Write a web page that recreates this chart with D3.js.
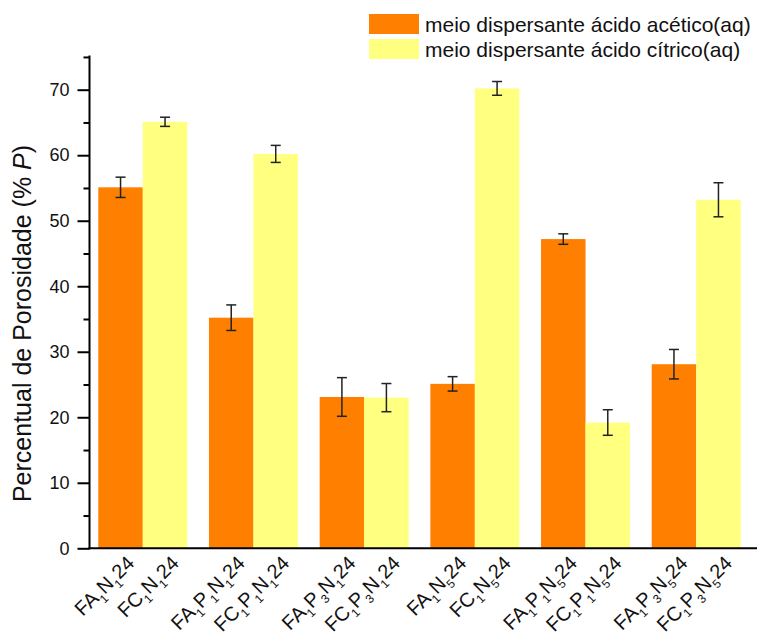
<!DOCTYPE html>
<html>
<head>
<meta charset="utf-8">
<script src="https://cdn.jsdelivr.net/npm/d3@7"></script>
<style>
  html, body { margin: 0; padding: 0; background: #fff; }
  svg { display: block; font-family: "Liberation Sans", Arial, sans-serif; }
</style>
</head>
<body>
<svg id="chart" width="760" height="642"></svg>
<script>
// ---- data ----
const groups = ["N1", "P1N1", "P3N1", "N5", "P1N5", "P3N5"];
const seriesNames = ["meio dispersante ácido acético(aq)", "meio dispersante ácido cítrico(aq)"];
const aceticValues = [55.1, 35.2, 23.1, 25.1, 47.2, 28.1];
const aceticErrors = [1.55, 1.95, 2.95, 1.1, 0.8, 2.25];
const citricValues = [65.1, 60.2, 23.0, 70.2, 19.2, 53.2];
const citricErrors = [0.7, 1.3, 2.15, 1.05, 1.95, 2.6];
// {x} = subscript
const aceticLabels = ["FA{1}N{1}24", "FA{1}P{1}N{1}24", "FA{1}P{3}N{1}24", "FA{1}N{5}24", "FA{1}P{1}N{5}24", "FA{1}P{3}N{5}24"];
const citricLabels = ["FC{1}N{1}24", "FC{1}P{1}N{1}24", "FC{1}P{3}N{1}24", "FC{1}N{5}24", "FC{1}P{1}N{5}24", "FC{1}P{3}N{5}24"];
const yTicks = [0, 10, 20, 30, 40, 50, 60, 70];
const yMinorTicks = [5, 15, 25, 35, 45, 55, 65, 75];
const colors = ["#FF8000", "#FFFF80"];

// ---- layout ----
const svg = d3.select("#chart");
const axisX = 89.5, axisY = 548.3;
const x0 = d3.scaleBand().domain(groups).range([axisX, 749.5]).paddingInner(0.196).paddingOuter(0.0795);
const x1 = d3.scaleBand().domain([0, 1]).range([0, x0.bandwidth()]);
const y = d3.scaleLinear().domain([0, 75]).range([axisY, axisY - 75 * 6.5514]);

const series = [
  { values: aceticValues, errors: aceticErrors, labels: aceticLabels },
  { values: citricValues, errors: citricErrors, labels: citricLabels }
];

// bars
series.forEach((s, si) => {
  svg.append("g").selectAll("rect").data(groups).join("rect")
    .attr("x", g => x0(g) + x1(si))
    .attr("y", (g, i) => y(s.values[i]))
    .attr("width", x1.bandwidth())
    .attr("height", (g, i) => axisY - y(s.values[i]))
    .attr("fill", colors[si]);
});

// error bars
series.forEach((s, si) => {
  const eg = svg.append("g").attr("stroke", "#222").attr("stroke-width", 1.5).attr("fill", "none");
  groups.forEach((g, i) => {
    const cx = x0(g) + x1(si) + x1.bandwidth() / 2;
    const yt = y(s.values[i] + s.errors[i]), yb = y(s.values[i] - s.errors[i]);
    eg.append("line").attr("x1", cx).attr("x2", cx).attr("y1", yt).attr("y2", yb);
    eg.append("line").attr("x1", cx - 5).attr("x2", cx + 5).attr("y1", yt).attr("y2", yt);
    eg.append("line").attr("x1", cx - 5).attr("x2", cx + 5).attr("y1", yb).attr("y2", yb);
  });
});

// y axis
const yAxis = svg.append("g").attr("transform", `translate(${axisX},0)`)
  .call(d3.axisLeft(y).tickValues(yTicks).tickSize(12).tickPadding(8).tickFormat(d3.format("d")));
yAxis.select(".domain").remove();
yAxis.selectAll(".tick line").attr("stroke", "#000").attr("stroke-width", 2);
yAxis.selectAll(".tick text").attr("font-size", 18).attr("fill", "#111")
  .attr("font-family", "'Liberation Sans', Arial, sans-serif");
const yMinor = svg.append("g").attr("transform", `translate(${axisX},0)`)
  .call(d3.axisLeft(y).tickValues(yMinorTicks).tickSize(6).tickFormat(""));
yMinor.select(".domain").remove();
yMinor.selectAll(".tick line").attr("stroke", "#000").attr("stroke-width", 2);

// axis lines
svg.append("line").attr("x1", axisX).attr("x2", axisX).attr("y1", y(75) - 1.5).attr("y2", axisY + 1)
  .attr("stroke", "#000").attr("stroke-width", 2);
svg.append("line").attr("x1", axisX - 1).attr("x2", 757).attr("y1", axisY).attr("y2", axisY)
  .attr("stroke", "#000").attr("stroke-width", 2);

// x labels
function addLabel(sel, str) {
  const parts = str.split(/(\{[^}]*\})/).filter(p => p.length);
  let sub = false;
  parts.forEach(p => {
    if (p.startsWith("{")) {
      sel.append("tspan").attr("font-size", 12).attr("dy", 6).text(p.slice(1, -1));
      sub = true;
    } else {
      const t = sel.append("tspan").text(p);
      if (sub) t.attr("dy", -6);
      sub = false;
    }
  });
}
series.forEach((s, si) => {
  groups.forEach((g, i) => {
    const cx = x0(g) + x1(si) + x1.bandwidth() / 2;
    const t = svg.append("text")
      .attr("transform", `translate(${cx + 15},${axisY + 16}) rotate(-45)`)
      .attr("text-anchor", "end")
      .attr("font-size", 20)
      .attr("fill", "#111");
    addLabel(t, s.labels[i]);
  });
});

// y title
const yt = svg.append("text")
  .attr("transform", `translate(31,323.5) rotate(-90)`)
  .attr("text-anchor", "middle")
  .attr("font-size", 25)
  .attr("fill", "#111");
yt.append("tspan").text("Percentual de Porosidade (% ");
yt.append("tspan").attr("font-style", "italic").text("P");
yt.append("tspan").text(")");

// legend
const legend = svg.append("g");
seriesNames.forEach((name, i) => {
  const ly = [14, 39][i];
  legend.append("rect").attr("x", 369).attr("y", ly).attr("width", 50).attr("height", 20).attr("fill", colors[i]);
  legend.append("text").attr("x", 425).attr("y", ly + 18).attr("font-size", 21).attr("fill", "#111").text(name);
});
</script>
</body>
</html>
